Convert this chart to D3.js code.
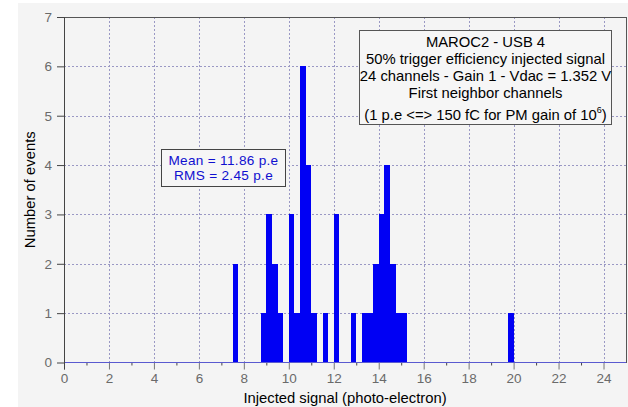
<!DOCTYPE html>
<html>
<head>
<meta charset="utf-8">
<script src="https://cdn.jsdelivr.net/npm/d3@7"></script>
<style>
  html, body { margin: 0; padding: 0; background: #ffffff; }
  svg { display: block; font-family: "Liberation Sans", Arial, sans-serif; }
</style>
</head>
<body>
<svg id="chart" width="628" height="407"></svg>
<script>
// Histogram bins: lower edge of each 0.25 p.e. bin and its count
const binWidth = 0.25;
const binLow = [7.5, 8.75, 9.0, 9.25, 9.5, 10.0, 10.25, 10.5, 10.75, 11.0, 11.5, 12.0,
                12.75, 13.25, 13.5, 13.75, 14.0, 14.25, 14.5, 14.75, 15.0, 19.75];
const counts = [2, 1, 3, 2, 1, 3, 1, 6, 4, 1, 1, 3,
                1, 1, 1, 2, 3, 4, 2, 1, 1, 1];

const xTicks = [0, 2, 4, 6, 8, 10, 12, 14, 16, 18, 20, 22, 24];
const xMinorTicks = [1, 3, 5, 7, 9, 11, 13, 15, 17, 19, 21, 23];
const yTicks = [0, 1, 2, 3, 4, 5, 6, 7];

const infoLines = [
  "MAROC2 - USB 4",
  "50% trigger efficiency injected signal",
  "24 channels - Gain 1 - Vdac = 1.352 V",
  "First neighbor channels"
];
const statsLines = ["Mean = 11.86 p.e", "RMS = 2.45 p.e"];

const svg = d3.select("#chart");
const plotLeft = 64, plotRight = 626, plotTop = 17, plotBottom = 362.5;

const x = d3.scaleLinear().domain([0, 25]).range([plotLeft, plotRight]);
const y = d3.scaleLinear().domain([0, 7]).range([plotBottom, plotTop]);

// panel background
svg.append("rect").attr("x", 18).attr("y", 3).attr("width", 610).attr("height", 404)
  .attr("fill", "#f4f4f4");

// grid
const grid = svg.append("g").attr("stroke", "#9a98c4").attr("stroke-width", 1)
  .attr("stroke-dasharray", "2,2").attr("shape-rendering", "crispEdges");
grid.selectAll("line.h").data(yTicks.filter(d => d > 0 && d < 7)).join("line")
  .attr("x1", plotLeft).attr("x2", plotRight)
  .attr("y1", d => Math.round(y(d)) + 0.5).attr("y2", d => Math.round(y(d)) + 0.5);
grid.selectAll("line.v").data(xTicks.filter(d => d > 0)).join("line")
  .attr("y1", plotTop).attr("y2", plotBottom)
  .attr("x1", d => Math.round(x(d)) + 0.5).attr("x2", d => Math.round(x(d)) + 0.5);

// bars
svg.append("g").attr("fill", "#0000f4").attr("shape-rendering", "crispEdges")
  .selectAll("rect").data(binLow).join("rect")
  .attr("x", d => x(d))
  .attr("width", d => x(d + binWidth) - x(d))
  .attr("y", (d, i) => y(counts[i]))
  .attr("height", (d, i) => y(0) - y(counts[i]));

// frame
const frame = svg.append("g").attr("shape-rendering", "crispEdges");
frame.append("line").attr("x1", plotLeft).attr("x2", plotRight)
  .attr("y1", plotTop + 0.5).attr("y2", plotTop + 0.5).attr("stroke", "#555");
frame.append("line").attr("x1", plotRight + 0.5).attr("x2", plotRight + 0.5)
  .attr("y1", plotTop).attr("y2", plotBottom).attr("stroke", "#555");

// x axis
const xAxis = d3.axisBottom(x).tickValues(xTicks).tickSize(7).tickPadding(4).tickFormat(d3.format("d"));
const gx = svg.append("g").attr("transform", `translate(0,${plotBottom})`).call(xAxis);
gx.select(".domain").remove();
gx.selectAll(".tick line").attr("stroke", "#777");
gx.selectAll(".tick text").attr("fill", "#6a6a6a").attr("font-size", 13.5)
  .attr("font-family", "Liberation Sans, Arial, sans-serif");
const xMinor = d3.axisBottom(x).tickValues(xMinorTicks).tickSize(3).tickFormat("");
const gxm = svg.append("g").attr("transform", `translate(0,${plotBottom})`).call(xMinor);
gxm.select(".domain").remove();
gxm.selectAll(".tick line").attr("stroke", "#444");
svg.append("line").attr("x1", plotLeft).attr("x2", plotRight).attr("y1", plotBottom).attr("y2", plotBottom)
  .attr("stroke", "#5a5ad0").attr("stroke-width", 1.2);

// y axis
const yAxis = d3.axisLeft(y).tickValues(yTicks).tickSize(7).tickPadding(5).tickFormat(d3.format("d"));
const gy = svg.append("g").attr("transform", `translate(${plotLeft},0)`).call(yAxis);
gy.select(".domain").attr("stroke", "#444").attr("d", `M0.5,${plotTop}V${plotBottom + 7}`);
gy.selectAll(".tick line").attr("stroke", "#444");
gy.selectAll(".tick text").attr("fill", "#6a6a6a").attr("font-size", 13.5)
  .attr("font-family", "Liberation Sans, Arial, sans-serif");

// axis titles
svg.append("text").attr("x", (plotLeft + plotRight) / 2).attr("y", 403).attr("text-anchor", "middle")
  .attr("font-size", 14.8).attr("fill", "#000").text("Injected signal (photo-electron)");
svg.append("text").attr("transform", `translate(35,${(plotTop + plotBottom) / 2}) rotate(-90)`)
  .attr("text-anchor", "middle").attr("font-size", 14.8).attr("fill", "#000")
  .text("Number of events");

// info box
const info = svg.append("g");
info.append("rect").attr("x", 359.5).attr("y", 30.5).attr("width", 252).attr("height", 94)
  .attr("fill", "#f6f6f6").attr("stroke", "#555");
const cx = 485.5;
const infoText = info.append("text").attr("text-anchor", "middle")
  .attr("font-size", 14.8).attr("fill", "#000");
infoText.selectAll("tspan").data(infoLines).join("tspan")
  .attr("x", cx).attr("y", (d, i) => 47 + i * 17).text(d => d);
const last = info.append("text").attr("x", cx).attr("y", 120).attr("text-anchor", "middle")
  .attr("font-size", 14.8).attr("fill", "#000");
last.append("tspan").text("(1 p.e <=> 150 fC for PM gain of 10");
last.append("tspan").attr("dy", -7).attr("font-size", 9).text("6");
last.append("tspan").attr("dy", 7).text(")");

// statistics box
const stats = svg.append("g");
stats.append("rect").attr("x", 161.5).attr("y", 149.5).attr("width", 124).attr("height", 37)
  .attr("fill", "#f6f6f6").attr("stroke", "#444");
stats.selectAll("text").data(statsLines).join("text")
  .attr("x", 223.5).attr("y", (d, i) => 164.5 + i * 15.5).attr("text-anchor", "middle")
  .attr("font-size", 13.6).attr("fill", "#1010d0").attr("letter-spacing", 0.3)
  .text(d => d);
</script>
</body>
</html>
